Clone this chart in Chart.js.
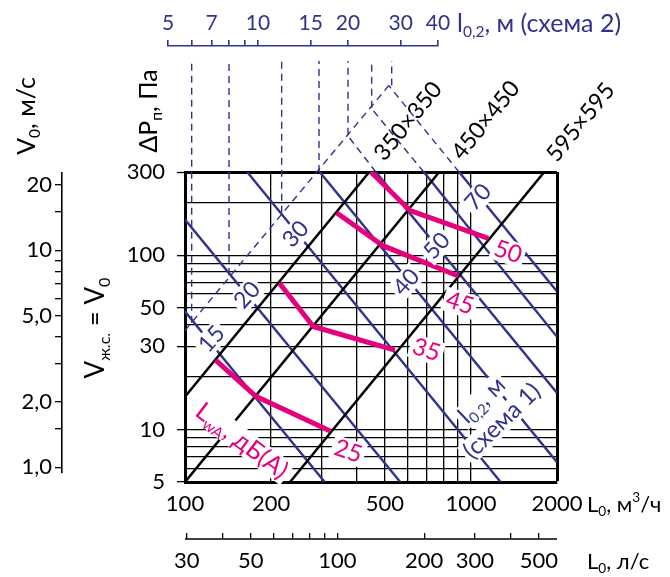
<!DOCTYPE html>
<html>
<head>
<meta charset="utf-8">
<script src="https://cdn.jsdelivr.net/npm/chart.js@4.4.1/dist/chart.umd.min.js"></script>
<style>
  html, body { margin: 0; padding: 0; background: #fff; }
</style>
</head>
<body>
<canvas id="nomogram" width="670" height="577"></canvas>
<script>
// шкалы
const flowTicks = [100, 200, 300, 400, 500, 600, 700, 800, 900, 1000, 2000];   // L0, м3/ч
const flowLabels = [100, 200, 500, 1000, 2000];
const litreTicks = [30, 40, 50, 60, 70, 80, 90, 100, 200, 300, 400, 500];      // L0, л/с
const litreLabels = [30, 50, 100, 200, 300, 500];
const pressureTicks = [5, 6, 7, 8, 9, 10, 20, 30, 40, 50, 60, 70, 80, 90, 100, 200, 300]; // ΔPп, Па
const pressureLabels = [5, 10, 30, 50, 100, 300];
const speedTicks = [1, 1.5, 2, 3, 4, 5, 6, 7, 8, 9, 10, 15, 20];              // V0, м/с
const speedLabelValues = [1, 2, 5, 10, 20];
const speedLabelText = ['1,0', '2,0', '5,0', '10', '20'];
const throw2Ticks = [5, 6, 7, 8, 9, 10, 15, 20, 30, 40];                      // l0,2 схема 2
const throw2Labels = [5, 7, 10, 15, 20, 30, 40];

// типоразмеры решёток (чёрные линии)
const ductSizes = ['350×350', '450×450', '595×595'];
const ductL = [[100, 441], [100, 775], [233, 1805]];
const ductP = [[15.4, 300], [5, 300], [5, 300]];

// l0,2, м (схема 1) - синие линии
const throwValues = [15, 20, 30, 40, 50, 60, 70];
const throwL = [[100, 308], [100, 566], [165, 1270], [296, 2000], [465, 2000], [684, 2000], [909, 2000]];
const throwP = [[47.5, 5], [160, 5], [300, 5], [300, 6.5], [300, 16.2], [300, 34], [300, 62]];

// схема 2: вертикали к верхней шкале
const throw2Values = [6, 8, 12, 16, 20, 24, 28];
const throw2Bottom = [41, 77, 175, 300, 490, 700, 940];
const throw2Top = 1300;
// линия перелома и продолжения линий 50, 60, 70
const foldL = [100, 516];
const foldP = [37, 940];
const extL = [[465, 369], [684, 447], [909, 516]];
const extP = [[300, 490], [300, 700], [300, 940]];

// LwA, дБ(А)
const noiseLevels = [25, 35, 45, 50];
const noiseL = [[128, 177, 322], [214, 281, 542], [339, 494, 903], [447, 613, 1150]];
const noiseP = [[25, 15.5, 9.8], [69, 39, 28.5], [175, 113, 76], [300, 180, 125]];

// где стоят подписи (L, ΔP)
const throwLabelAt = [[124, 33], [165, 59], [244, 132], [595, 70], [761, 113], null, [1060, 215]];
const noiseLabelAt = [[372, 7.5], [699, 28.6], [915, 53], [1348, 104.5]];
const ductLabelAt = [[603, 587], [1127, 594], [2420, 578]];

const FONT = 'Lato, "Open Sans", sans-serif';
const BLUE = '#30338a';
const PINK = '#e5007e';

function pts(xs, ys) {
    return xs.map((x, i) => ({ x: x, y: ys[i] }));
}

function seg(data, color, width, order, more) {
    return Object.assign({
        data: data, showLine: true, borderColor: color, borderWidth: width,
        pointRadius: 0, pointHoverRadius: 0, fill: false, order: order,
        xAxisID: "x", yAxisID: "y"
    }, more || {});
}

const dashed = { borderDash: [7, 5], clip: false };
const datasets = [];
noiseL.forEach((xs, i) => datasets.push(seg(pts(xs, noiseP[i]), PINK, 5, 0, { borderJoinStyle: "miter" })));
ductL.forEach((xs, i) => datasets.push(seg(pts(xs, ductP[i]), "#000", 2.5, 1)));
throwL.forEach((xs, i) => datasets.push(seg(pts(xs, throwP[i]), BLUE, 2.4, 2)));
throw2Values.forEach((v, i) => datasets.push(
    seg([{ x: v, y: throw2Bottom[i] }, { x: v, y: throw2Top }], BLUE, 1.4, 3, Object.assign({ xAxisID: "xTop" }, dashed))));
datasets.push(seg(pts(foldL, foldP), BLUE, 1.4, 3, dashed));
extL.forEach((xs, i) => datasets.push(seg(pts(xs, extP[i]), BLUE, 1.4, 3, dashed)));

// текст с индексами: [["V"], ["0", "sub"], [", м/с"]]
function fontOf(size) {
    return size + "px " + FONT;
}
function drawRich(ctx, parts, x, y, o) {
    const size = o.size || 22;
    ctx.save();
    ctx.translate(x, y);
    ctx.rotate((o.angle || 0) * Math.PI / 180);
    ctx.translate(0, o.shift || 0);
    let w = 0;
    parts.forEach(p => {
        ctx.font = fontOf(p[1] ? size * 0.62 : size);
        w += ctx.measureText(p[0]).width;
    });
    let cx = o.align === "left" ? 0 : -w / 2;
    if (o.bg) {
        ctx.fillStyle = "#fff";
        ctx.fillRect(cx - 3, -size * 0.5, w + 6, size * 1.0);
    }
    ctx.fillStyle = o.color || "#000";
    ctx.textBaseline = "middle";
    ctx.textAlign = "left";
    parts.forEach(p => {
        const s = p[1] ? size * 0.62 : size;
        ctx.font = fontOf(s);
        const dy = p[1] === "sub" ? size * 0.32 : p[1] === "sup" ? -size * 0.35 : 0;
        ctx.fillText(p[0], cx, dy);
        cx += ctx.measureText(p[0]).width;
    });
    ctx.restore();
}

// верхняя шкала l0,2 и шкала V0 стоят не по краям поля графика
const axisFrames = {
    xTop: { left: 168, right: 438, top: 0, bottom: 46 },
    yV: { top: 173, bottom: 473 }
};
const placeAxes = {
    id: "placeAxes",
    afterLayout(chart) {
        Object.keys(axisFrames).forEach(id => {
            const s = chart.scales[id];
            Object.assign(s, axisFrames[id]);
            s.width = s.right - s.left;
            s.height = s.bottom - s.top;
            s.configure();
        });
    }
};

const annotate = {
    id: "annotate",
    afterDatasetsDraw(chart) {
        const ctx = chart.ctx;
        const sx = chart.scales.x, sy = chart.scales.y;
        const px = p => sx.getPixelForValue(p[0]);
        const py = p => sy.getPixelForValue(p[1]);

        // линия шкалы л/с под рисками
        const ls = chart.scales.xLs;
        const lineY = ls.top + ls.options.grid.tickLength;
        ctx.save();
        ctx.strokeStyle = "#000";
        ctx.lineWidth = 1.5;
        ctx.beginPath();
        ctx.moveTo(ls.left, lineY);
        ctx.lineTo(ls.right, lineY);
        ctx.stroke();
        ctx.restore();

        throwValues.forEach((v, i) => {
            const p = throwLabelAt[i];
            if (p) drawRich(ctx, [[String(v)]], px(p), py(p), { angle: -48, color: BLUE, bg: true, size: 23 });
        });
        noiseLevels.forEach((v, i) => {
            const p = noiseLabelAt[i];
            drawRich(ctx, [[String(v)]], px(p), py(p), { angle: 18, color: PINK, bg: true, size: 24 });
        });
        ductSizes.forEach((t, i) => {
            const p = ductLabelAt[i];
            drawRich(ctx, [[t]], px(p), py(p), { angle: -51, size: 23 });
        });
        const s1 = [1194, 12.65];
        drawRich(ctx, [["l"], ["0,2", "sub"], [", м"]], px(s1), py(s1), { angle: -44, color: BLUE, bg: true, shift: -16, size: 24 });
        drawRich(ctx, [["(схема 1)"]], px(s1), py(s1), { angle: -44, color: BLUE, bg: true, shift: 13, size: 24 });
        const lw = [158, 8.6];
        drawRich(ctx, [["L"], ["wA", "sub"], [", дБ(А)"]], px(lw), py(lw), { angle: 37, color: PINK, bg: true, size: 25 });

        // подписи осей
        drawRich(ctx, [["V"], ["0", "sub"], [", м/с"]], 27, 116, { angle: -90, size: 25 });
        drawRich(ctx, [["ΔP"], ["п", "sub"], [", Па"]], 149, 111, { angle: -90, size: 25 });
        drawRich(ctx, [["V"], ["ж.с.", "sub"], [" = V"], ["0", "sub"]], 96, 328, { angle: -90, size: 26 });
        drawRich(ctx, [["l"], ["0,2", "sub"], [", м (схема 2)"]], 457, 24, { align: "left", color: BLUE, size: 25 });
        drawRich(ctx, [["L"], ["0", "sub"], [", м"], ["3", "sup"], ["/ч"]], 587, 505, { align: "left", size: 22 });
        drawRich(ctx, [["L"], ["0", "sub"], [", л/с"]], 587, 562, { align: "left", size: 22 });
    }
};

const tickFont = { family: FONT, size: 22 };

new Chart(document.getElementById("nomogram"), {
    type: "scatter",
    data: { datasets: datasets },
    options: {
        responsive: false,
        animation: false,
        layout: { padding: { top: 172, right: 113, bottom: 0, left: 0 } },
        plugins: { legend: { display: false }, tooltip: { enabled: false } },
        scales: {
            x: {
                type: "logarithmic", axis: "x", position: "bottom", weight: 0, min: 100, max: 2000,
                afterBuildTicks: s => { s.ticks = flowTicks.map(v => ({ value: v })); },
                afterFit: s => { s.height = 51; },
                ticks: {
                    autoSkip: false, maxRotation: 0, padding: 9, color: "#000", font: tickFont,
                    callback: v => flowLabels.includes(v) ? String(v) : ""
                },
                grid: { color: "#000", drawTicks: false, lineWidth: c => (c.tick && c.tick.value === 2000) ? 3 : 1.3 },
                border: { color: "#000", width: 3 }
            },
            xLs: {
                type: "logarithmic", axis: "x", position: "bottom", weight: 1, min: 29.6, max: 577.6,
                afterBuildTicks: s => { s.ticks = litreTicks.map(v => ({ value: v })); },
                afterFit: s => { s.height = 44; },
                ticks: {
                    autoSkip: false, maxRotation: 0, padding: 9, color: "#000", font: tickFont,
                    callback: v => litreLabels.includes(v) ? String(v) : ""
                },
                grid: { drawOnChartArea: false, color: "#000", lineWidth: 1.3, tickLength: 6 },
                border: { display: false }
            },
            xTop: {
                type: "logarithmic", axis: "x", position: "top", min: 5, max: 40,
                afterBuildTicks: s => { s.ticks = throw2Ticks.map(v => ({ value: v })); },
                afterFit: s => { s.height = 0; },
                ticks: {
                    autoSkip: false, maxRotation: 0, padding: 4, color: BLUE, font: { family: FONT, size: 21 },
                    callback: v => throw2Labels.includes(v) ? String(v) : ""
                },
                grid: { drawOnChartArea: false, color: BLUE, lineWidth: 1.6, tickLength: 6 },
                border: { color: BLUE, width: 1.6 }
            },
            y: {
                type: "logarithmic", axis: "y", position: "left", weight: 0, min: 5, max: 300,
                afterBuildTicks: s => { s.ticks = pressureTicks.map(v => ({ value: v })); },
                afterFit: s => { s.width = 123; },
                ticks: {
                    autoSkip: false, padding: 12, color: "#000", font: tickFont,
                    callback: v => pressureLabels.includes(v) ? String(v) : ""
                },
                grid: {
                    color: "#000", tickLength: 8, tickWidth: 1.3,
                    lineWidth: c => (c.tick && c.tick.value === 300) ? 3 : 1.3,
                    tickColor: c => (c.tick && pressureLabels.includes(c.tick.value)) ? "#000" : "rgba(0,0,0,0)"
                },
                border: { color: "#000", width: 3 }
            },
            yV: {
                type: "logarithmic", axis: "y", position: "left", weight: 1, min: 0.94, max: 22.7,
                afterBuildTicks: s => { s.ticks = speedTicks.map(v => ({ value: v })); },
                afterFit: s => { s.width = 62; },
                ticks: {
                    autoSkip: false, padding: 3, color: "#000", font: tickFont,
                    callback: v => {
                        const k = speedLabelValues.indexOf(v);
                        return k >= 0 ? speedLabelText[k] : "";
                    }
                },
                grid: { drawOnChartArea: false, color: "#000", lineWidth: 1.3, tickLength: 7 },
                border: { color: "#000", width: 1.6 }
            }
        }
    },
    plugins: [placeAxes, annotate]
});
</script>
</body>
</html>
